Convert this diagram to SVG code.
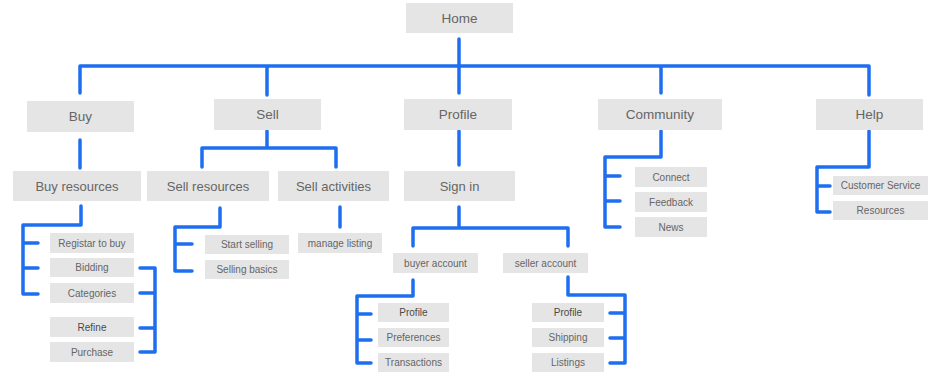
<svg xmlns="http://www.w3.org/2000/svg" width="928" height="373" viewBox="0 0 928 373">
<style>
.b{fill:#e5e5e5}
.t{font-family:"Liberation Sans",Arial,sans-serif;fill:#666;text-anchor:middle}
.l1{font-size:13.5px}
.l2{font-size:13px}
.l3{font-size:10px}
.d{fill:#4a4a4a}
.c{fill:none;stroke:#1e6ff0;stroke-width:3.5;stroke-linecap:round;stroke-linejoin:round}
</style>
<rect width="928" height="373" fill="#fff"/>
<g id="connectors" class="c">
<path d="M80,93 V66 H869 V95 M267,66 V95 M661,66 V93 M459,39 V93"/>
<path d="M80,140 V168"/>
<path d="M267,131 V148 M202,167 V148 H336 V167"/>
<path d="M459,131 V165"/>
<path d="M661,131 V157 H605 V227 H620 M605,176 H620 M605,201 H620"/>
<path d="M869,131 V167 H817 V212 H830 M817,186 H830"/>
<path d="M81,206 V225 H23 V294 H38 M23,243 H38 M23,268 H38"/>
<path d="M140,268 H155 V352 H140 M140,293 H155 M140,328 H155"/>
<path d="M220,208 V227 H175 V271 H192 M175,244 H192"/>
<path d="M340,207 V227"/>
<path d="M459,207 V228 M413,246 V228 H568 V246"/>
<path d="M413,280 V296 H357 V363 H371 M357,314 H371 M357,340 H371"/>
<path d="M568,277 V295 H625 V363 H610 M610,313 H625 M610,338 H625"/>
</g>
<g id="home"><rect class="b" x="406" y="3" width="107" height="30"/><text class="t l1" x="459.5" y="22.7">Home</text></g>
<g id="buy"><rect class="b" x="27" y="101" width="107" height="31"/><text class="t l1" x="80.5" y="121.2">Buy</text></g>
<g id="sell"><rect class="b" x="214" y="99" width="107" height="31"/><text class="t l1" x="267.5" y="119.2">Sell</text></g>
<g id="profile"><rect class="b" x="404" y="99" width="108" height="31"/><text class="t l1" x="458" y="119.2">Profile</text></g>
<g id="community"><rect class="b" x="598" y="99" width="124" height="31"/><text class="t l1" x="660" y="119.2">Community</text></g>
<g id="help"><rect class="b" x="816" y="99" width="107" height="31"/><text class="t l1" x="869.5" y="119.2">Help</text></g>
<g id="buy-resources"><rect class="b" x="13" y="171" width="128" height="30"/><text class="t l2" x="77" y="190.6">Buy resources</text></g>
<g id="sell-resources"><rect class="b" x="147" y="171" width="122" height="30"/><text class="t l2" x="208" y="190.6">Sell resources</text></g>
<g id="sell-activities"><rect class="b" x="278" y="171" width="111" height="30"/><text class="t l2" x="333.5" y="190.6">Sell activities</text></g>
<g id="sign-in"><rect class="b" x="404" y="171" width="111" height="30"/><text class="t l2" x="459.5" y="190.6">Sign in</text></g>
<g id="registar"><rect class="b" x="50" y="233" width="84" height="20"/><text class="t l3" x="92" y="246.5">Registar to buy</text></g>
<g id="bidding"><rect class="b" x="50" y="258" width="84" height="19"/><text class="t l3" x="92" y="271">Bidding</text></g>
<g id="categories"><rect class="b" x="50" y="283" width="84" height="20"/><text class="t l3" x="92" y="296.5">Categories</text></g>
<g id="refine"><rect class="b" x="50" y="317" width="84" height="20"/><text class="t l3 d" x="92" y="330.5">Refine</text></g>
<g id="purchase"><rect class="b" x="50" y="342" width="84" height="20"/><text class="t l3" x="92" y="355.5">Purchase</text></g>
<g id="start-selling"><rect class="b" x="205" y="235" width="84" height="19"/><text class="t l3" x="247" y="248">Start selling</text></g>
<g id="selling-basics"><rect class="b" x="205" y="260" width="84" height="19"/><text class="t l3" x="247" y="273">Selling basics</text></g>
<g id="manage-listing"><rect class="b" x="298" y="233" width="84" height="20"/><text class="t l3" x="340" y="246.5">manage listing</text></g>
<g id="buyer-account"><rect class="b" x="393" y="253" width="85" height="20"/><text class="t l3" x="435.5" y="266.5">buyer account</text></g>
<g id="seller-account"><rect class="b" x="503" y="253" width="85" height="20"/><text class="t l3" x="545.5" y="266.5">seller account</text></g>
<g id="buyer-profile"><rect class="b" x="378" y="303" width="71" height="19"/><text class="t l3 d" x="413.5" y="316">Profile</text></g>
<g id="preferences"><rect class="b" x="378" y="328" width="71" height="19"/><text class="t l3" x="413.5" y="341">Preferences</text></g>
<g id="transactions"><rect class="b" x="378" y="353" width="71" height="19"/><text class="t l3" x="413.5" y="366">Transactions</text></g>
<g id="seller-profile"><rect class="b" x="532" y="303" width="72" height="19"/><text class="t l3 d" x="568" y="316">Profile</text></g>
<g id="shipping"><rect class="b" x="532" y="328" width="72" height="19"/><text class="t l3" x="568" y="341">Shipping</text></g>
<g id="listings"><rect class="b" x="532" y="353" width="72" height="19"/><text class="t l3" x="568" y="366">Listings</text></g>
<g id="connect"><rect class="b" x="635" y="167" width="72" height="20"/><text class="t l3" x="671" y="180.5">Connect</text></g>
<g id="feedback"><rect class="b" x="635" y="192" width="72" height="20"/><text class="t l3" x="671" y="205.5">Feedback</text></g>
<g id="news"><rect class="b" x="635" y="217" width="72" height="20"/><text class="t l3" x="671" y="230.5">News</text></g>
<g id="customer-service"><rect class="b" x="833" y="176" width="95" height="19"/><text class="t l3" x="880.5" y="189">Customer Service</text></g>
<g id="resources"><rect class="b" x="833" y="201" width="95" height="19"/><text class="t l3" x="880.5" y="214">Resources</text></g>
</svg>
